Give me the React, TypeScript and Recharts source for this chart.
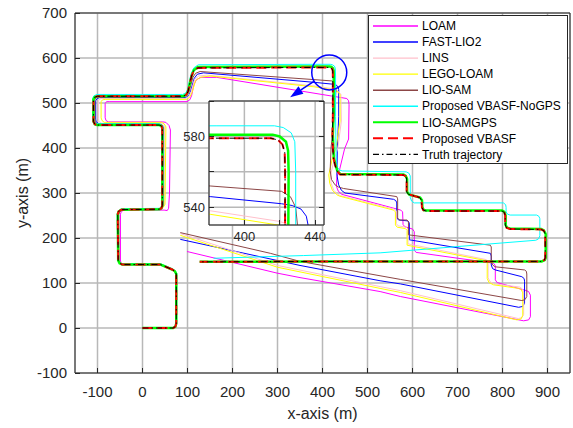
import React from 'react';
import { LineChart, Line, XAxis, YAxis, CartesianGrid, Legend, ReferenceDot, ReferenceLine } from 'recharts';

type Pt = [number, number];

const xTicks = [-100, 0, 100, 200, 300, 400, 500, 600, 700, 800, 900];
const yTicks = [-100, 0, 100, 200, 300, 400, 500, 600, 700];
const insetXTicks = [400, 420, 440];
const insetYTicks = [540, 560, 580, 600];
const insetXLabeled = [400, 440];
const insetYLabeled = [540, 580];

const truthPts: Pt[] = [
  [0, 0], [68, 0], [73, 3], [75, 10], [75, 120], [72, 126], [66, 130], [40, 141], [-45, 141], [-51, 144], [-54, 150],
  [-55, 253], [-53, 259], [-47, 263], [38, 264], [42, 266], [44, 272], [44, 444], [42, 449], [37, 451], [-101, 451],
  [-106, 453], [-109, 459], [-109, 508], [-106, 513], [-100, 515], [90, 515], [97, 518], [101, 525], [109, 560],
  [114, 572], [123, 578], [380, 579], [415, 579], [419, 578], [421.5, 575.5], [422.8, 571], [423, 560], [423, 470],
  [422, 430], [424, 380], [428, 362], [432, 349], [439, 341], [580, 340], [585, 337], [587, 331], [587, 303],
  [591, 297], [616, 290], [620, 284], [621, 268], [624, 262], [630, 260], [799, 260], [804, 257], [806, 250],
  [806, 229], [809, 223], [816, 220], [886, 219], [892, 216], [895, 209], [895, 156], [893, 151], [887, 148],
  [600, 148], [400, 148], [127, 147],
];

const vbasfPts: Pt[] = truthPts;

const lioSamGpsPts: Pt[] = [
  [0, 0], [68, 0], [73, 3], [75, 10], [75, 120], [72, 126], [66, 130], [40, 141], [-45, 141], [-51, 144], [-54, 150],
  [-55, 253], [-53, 259], [-47, 263], [38, 264], [42, 266], [44, 272], [44, 444], [42, 449], [37, 451], [-101, 451],
  [-106, 453], [-109, 459], [-109, 508], [-106, 513], [-100, 515], [90, 515], [97, 518], [101, 525], [109, 560],
  [114, 573], [123, 580], [380, 581], [416, 581], [420, 580], [423.5, 577], [424.7, 572], [425, 560], [424.5, 470],
  [423, 430], [425, 380], [429, 362], [433, 349], [440, 342], [580, 341], [585, 338], [588, 331], [588, 303],
  [592, 297], [617, 290], [621, 284], [622, 268], [625, 262], [631, 261], [799, 261], [804, 258], [807, 250],
  [807, 229], [810, 223], [817, 221], [886, 220], [892, 217], [896, 209], [896, 156], [894, 151], [887, 148],
  [600, 148], [400, 148], [127, 147],
];

const noGpsPts: Pt[] = [
  [0, 1], [68, 1], [74, 4], [76, 11], [76, 121], [73, 127], [66, 132], [40, 143], [-46, 143], [-52, 146], [-55, 152],
  [-56, 253], [-54, 260], [-47, 265], [39, 266], [44, 268], [46, 274], [46, 446], [43, 451], [37, 454], [-102, 454],
  [-108, 457], [-111, 463], [-111, 510], [-108, 516], [-101, 519], [89, 519], [96, 522], [100, 530], [108, 565],
  [114, 578], [124, 585], [384, 586], [417, 586], [422, 585], [426.5, 582], [428.5, 577], [429, 560], [429, 470],
  [430, 400], [431, 370], [433, 357], [438, 351], [444, 349], [586, 347], [592, 344], [595, 338], [595, 290],
  [598, 282], [604, 278], [802, 278], [807, 274], [808, 268], [808, 258], [811, 253], [817, 251], [876, 251],
  [881, 248], [883, 243], [883, 205], [880, 198], [874, 195], [700, 181], [528, 167], [358, 161], [158, 155],
];

const loamPts: Pt[] = [
  [0, 1], [68, 1], [73, 4], [74, 10], [74, 120], [71, 126], [65, 130], [40, 140], [-44, 140], [-48, 144], [-49, 151],
  [-49, 253], [-47, 259], [-41, 262], [48, 262], [55, 261], [58, 266], [60, 300], [62, 440], [59, 450], [52, 457],
  [45, 458], [-76, 458], [-81, 461], [-83, 467], [-83, 499], [-80, 503], [-74, 503], [99, 503], [105, 507],
  [109, 516], [114, 540], [120, 552], [130, 557], [165, 557], [454, 510], [458, 505], [459, 496], [458, 420],
  [449, 398], [438, 352], [432, 336], [431, 315], [435, 304], [443, 297], [574, 262], [578, 258], [579, 230],
  [583, 225], [600, 220], [604, 214], [604, 173], [608, 168], [780, 144], [784, 139], [784, 107], [788, 101],
  [795, 99], [850, 84], [858, 81], [862, 73], [862, 25], [858, 18], [847, 16], [573, 70], [528, 81], [350, 112],
  [299, 122], [99, 170],
];

const fastLio2Pts: Pt[] = [
  [0, 0], [68, 0], [73, 3], [75, 10], [75, 120], [72, 126], [66, 130], [40, 141], [-45, 141], [-51, 145], [-53, 151],
  [-53, 253], [-51, 259], [-45, 263], [40, 264], [45, 268], [47, 274], [47, 445], [44, 451], [38, 454], [-97, 454],
  [-103, 458], [-104, 464], [-104, 505], [-101, 510], [-95, 512], [96, 512], [103, 517], [107, 527], [115, 555],
  [122, 564], [136, 567], [381, 546], [421, 542], [427, 541], [432, 539], [435, 535], [436, 530], [436, 470],
  [433, 400], [432, 340], [436, 318], [442, 306], [450, 300], [558, 286], [563, 283], [565, 278], [565, 245],
  [569, 240], [590, 238], [593, 233], [593, 196], [773, 166], [775, 160], [775, 140], [778, 132], [784, 129],
  [843, 114], [848, 110], [849, 104], [849, 55], [845, 48], [836, 46], [573, 98], [528, 105], [350, 139], [84, 197],
];

const linsPts: Pt[] = [
  [0, 0], [68, 0], [73, 3], [75, 10], [75, 120], [72, 126], [66, 130], [40, 141], [-45, 141], [-51, 145], [-53, 151],
  [-53, 253], [-51, 259], [-45, 263], [40, 264], [45, 268], [48, 275], [49, 446], [46, 452], [40, 455], [-92, 455],
  [-97, 459], [-98, 465], [-98, 505], [-95, 509], [-89, 510], [96, 510], [103, 515], [108, 525], [116, 553],
  [125, 560], [143, 562], [381, 538], [420, 532], [429, 529], [436, 525], [441, 519], [442, 460], [434, 400],
  [425, 370], [418, 340], [419, 322], [425, 306], [434, 297], [440, 294], [560, 264], [564, 260], [564, 232],
  [568, 227], [586, 224], [590, 220], [590, 187], [764, 152], [768, 148], [768, 112], [772, 103], [782, 98],
  [838, 91], [844, 87], [847, 80], [847, 30], [843, 23], [835, 21], [573, 83], [528, 92], [300, 139], [84, 210],
];

const legoLoamPts: Pt[] = [
  [0, 0], [68, 0], [73, 3], [75, 10], [75, 120], [72, 126], [66, 130], [40, 141], [-45, 141], [-51, 145], [-53, 151],
  [-53, 253], [-51, 259], [-45, 263], [40, 264], [46, 268], [50, 275], [52, 447], [48, 454], [42, 457], [-85, 457],
  [-90, 461], [-92, 467], [-92, 503], [-89, 507], [-83, 508], [98, 508], [105, 513], [110, 523], [118, 550],
  [128, 557], [150, 560], [381, 536], [419, 530], [428, 527], [435, 524], [439, 519], [439, 460], [430, 400],
  [421, 373], [414, 340], [416, 322], [422, 306], [432, 296], [438, 293], [558, 262], [562, 258], [562, 229],
  [566, 224], [584, 221], [588, 217], [588, 184], [762, 150], [766, 145], [766, 110], [770, 101], [780, 96],
  [836, 88], [842, 85], [845, 78], [845, 28], [841, 20], [832, 18], [573, 79], [528, 88], [300, 135], [84, 206],
];

const lioSamPts: Pt[] = [
  [0, 0], [68, 0], [73, 3], [75, 10], [75, 120], [72, 126], [66, 130], [40, 141], [-45, 141], [-51, 145], [-53, 151],
  [-53, 253], [-51, 259], [-45, 263], [40, 264], [44, 268], [45, 274], [45, 445], [42, 451], [36, 453], [-100, 453],
  [-105, 457], [-106, 463], [-106, 507], [-103, 512], [-97, 514], [93, 514], [100, 519], [104, 527], [112, 557],
  [118, 566], [128, 570], [381, 552], [421, 549], [426, 546], [429, 540], [430, 530], [426, 470], [419, 400],
  [417, 350], [420, 330], [428, 318], [436, 313], [447, 310], [565, 292], [567, 287], [567, 244], [572, 240],
  [588, 240], [591, 236], [591, 207], [773, 184], [775, 180], [775, 147], [778, 140], [784, 136], [849, 129],
  [853, 126], [854, 120], [854, 70], [850, 63], [843, 61], [573, 108], [350, 148], [284, 166], [84, 212],
];

type Series = { name: string; pts: Pt[]; color: string; width: number; dash?: string };

const series: Series[] = [
  { name: 'LOAM', pts: loamPts, color: '#ff00ff', width: 1 },
  { name: 'FAST-LIO2', pts: fastLio2Pts, color: '#0000ff', width: 1 },
  { name: 'LINS', pts: linsPts, color: '#ffc0cb', width: 1 },
  { name: 'LEGO-LOAM', pts: legoLoamPts, color: '#ffff00', width: 1 },
  { name: 'LIO-SAM', pts: lioSamPts, color: '#8c4646', width: 1 },
  { name: 'Proposed VBASF-NoGPS', pts: noGpsPts, color: '#00ffff', width: 1 },
  { name: 'LIO-SAMGPS', pts: lioSamGpsPts, color: '#00ff00', width: 2.5 },
  { name: 'Proposed VBASF', pts: vbasfPts, color: '#ff0000', width: 2, dash: '10 5' },
  { name: 'Truth trajectory', pts: truthPts, color: '#000000', width: 1, dash: '6 3 1.5 3' },
];

const rows = (pts: Pt[]) => pts.map(([x, y]) => ({ x, y }));

const FONT = '"Liberation Sans", Arial, Helvetica, sans-serif';
const AXIS = '#262626';
const GRID = '#b8b8b8';

const fmt = (v: number) => String(v);

const makeBottomTick = (m: number, fs: number, labeled?: number[]) => (props: any) => {
  const { x, y, payload } = props;
  const show = !labeled || labeled.includes(payload.value);
  return (
    <g>
      <path d={`M${x},${y - m}V${y - m - 5}`} stroke={AXIS} strokeWidth={1} fill="none" shapeRendering="crispEdges" />
      {show && (
        <text x={x} y={y} dy="0.71em" textAnchor="middle" fontSize={fs} fill={AXIS} fontFamily={FONT}>
          {fmt(payload.value)}
        </text>
      )}
    </g>
  );
};

const makeLeftTick = (m: number, fs: number, labeled?: number[]) => (props: any) => {
  const { x, y, payload } = props;
  const show = !labeled || labeled.includes(payload.value);
  return (
    <g>
      <path d={`M${x + m},${y}H${x + m + 5}`} stroke={AXIS} strokeWidth={1} fill="none" shapeRendering="crispEdges" />
      {show && (
        <text x={x} y={y} dy="0.355em" textAnchor="end" fontSize={fs} fill={AXIS} fontFamily={FONT}>
          {fmt(payload.value)}
        </text>
      )}
    </g>
  );
};

const TopTick = (props: any) => {
  const { x, y } = props;
  return <path d={`M${x},${y}V${y + 5}`} stroke={AXIS} strokeWidth={1} fill="none" shapeRendering="crispEdges" />;
};

const RightTick = (props: any) => {
  const { x, y } = props;
  return <path d={`M${x},${y}H${x - 5}`} stroke={AXIS} strokeWidth={1} fill="none" shapeRendering="crispEdges" />;
};

const Arrow = (props: any) => {
  const { x1, y1, x2, y2 } = props;
  if ([x1, y1, x2, y2].some((v) => typeof v !== 'number' || isNaN(v))) return <g />;
  const ang = Math.atan2(y2 - y1, x2 - x1);
  const L = 13;
  const W = 4.5;
  const bx = x2 - L * Math.cos(ang);
  const by = y2 - L * Math.sin(ang);
  const px = -Math.sin(ang) * W;
  const py = Math.cos(ang) * W;
  return (
    <g>
      <line x1={x1} y1={y1} x2={bx} y2={by} stroke="#0000ff" strokeWidth={1.5} />
      <polygon points={`${x2},${y2} ${bx + px},${by + py} ${bx - px},${by - py}`} fill="#0000ff" />
    </g>
  );
};

const renderLegend = () => (
  <svg width={201} height={150} style={{ display: 'block' }}>
    <rect x={0.5} y={0.5} width={199} height={148} fill="#ffffff" stroke={AXIS} strokeWidth={1} />
    {series.map((s, i) => {
      const cy = 11 + i * 16.05;
      return (
        <g key={s.name}>
          <line x1={5} x2={50} y1={cy} y2={cy} stroke={s.color} strokeWidth={s.width < 1.5 ? 1.4 : 2} strokeDasharray={s.dash} />
          <text x={54} y={cy} dy="0.35em" fontSize={12} fill="#000" fontFamily={FONT}>
            {s.name}
          </text>
        </g>
      );
    })}
  </svg>
);

const renderLines = () =>
  series.map((s) => (
    <Line
      key={s.name}
      data={rows(s.pts)}
      dataKey="y"
      name={s.name}
      type="linear"
      stroke={s.color}
      strokeWidth={s.width}
      strokeDasharray={s.dash}
      dot={false}
      activeDot={false}
      isAnimationActive={false}
      legendType="none"
    />
  ));

export default function App() {
  return (
    <div style={{ position: 'absolute', left: 0, top: 0, width: 573, height: 428, background: '#fff' }}>
      <LineChart width={573} height={428} margin={{ top: 12, right: 2, bottom: 5, left: 15 }}>
        <CartesianGrid stroke={GRID} strokeWidth={1.5} horizontal vertical />
        <XAxis
          dataKey="x"
          type="number"
          domain={[-150, 950]}
          ticks={xTicks}
          height={50}
          tickSize={0}
          tickMargin={13}
          tickLine={false}
          axisLine={{ stroke: AXIS }}
          tick={makeBottomTick(13, 15)}
          interval={0}
          label={{ value: 'x-axis (m)', position: 'insideBottom', offset: 4, style: { fontSize: 16, fill: AXIS, fontFamily: FONT } }}
        />
        <XAxis xAxisId="top" orientation="top" type="number" domain={[-150, 950]} ticks={xTicks} height={1} tickSize={0} tickMargin={0} tickLine={false} axisLine={{ stroke: AXIS }} tick={TopTick} interval={0} />
        <YAxis
          type="number"
          domain={[-100, 700]}
          ticks={yTicks}
          width={60}
          tickSize={0}
          tickMargin={8}
          tickLine={false}
          axisLine={{ stroke: AXIS }}
          tick={makeLeftTick(8, 15)}
          interval={0}
          label={{ value: 'y-axis (m)', angle: -90, position: 'insideLeft', offset: 7, style: { fontSize: 16, fill: AXIS, fontFamily: FONT, textAnchor: 'middle' } }}
        />
        <YAxis yAxisId="right" orientation="right" type="number" domain={[-100, 700]} ticks={yTicks} width={1} tickSize={0} tickMargin={0} tickLine={false} axisLine={{ stroke: AXIS }} tick={RightTick} interval={0} />
        {renderLines()}
        <ReferenceDot x={415} y={568} r={17.5} fill="none" stroke="#0000ff" strokeWidth={1.5} isFront />
        <ReferenceLine segment={[{ x: 381, y: 548 }, { x: 328, y: 513 }]} shape={Arrow} isFront />
        <Legend layout="vertical" align="center" verticalAlign="middle" content={renderLegend} wrapperStyle={{ left: 368, top: 15, width: 201, height: 150, right: 'auto', bottom: 'auto' }} />
      </LineChart>
      <div style={{ position: 'absolute', left: 170, top: 95 }}>
        <LineChart width={160} height={150} margin={{ top: 5, right: 5, bottom: 0, left: 9 }}>
          <CartesianGrid stroke={GRID} strokeWidth={1.5} fill="#ffffff" fillOpacity={1} />
          <XAxis dataKey="x" type="number" domain={[380, 445]} allowDataOverflow ticks={insetXTicks} height={20} tickSize={0} tickMargin={7} tickLine={false} axisLine={{ stroke: AXIS }} tick={makeBottomTick(7, 13, insetXLabeled)} interval={0} />
          <XAxis xAxisId="top" orientation="top" type="number" domain={[380, 445]} allowDataOverflow ticks={insetXTicks} height={1} tickSize={0} tickMargin={0} tickLine={false} axisLine={{ stroke: AXIS }} tick={TopTick} interval={0} />
          <YAxis type="number" domain={[530, 600]} allowDataOverflow ticks={insetYTicks} width={30} tickSize={0} tickMargin={4} tickLine={false} axisLine={{ stroke: AXIS }} tick={makeLeftTick(4, 13, insetYLabeled)} interval={0} />
          <YAxis yAxisId="right" orientation="right" type="number" domain={[530, 600]} allowDataOverflow ticks={insetYTicks} width={1} tickSize={0} tickMargin={0} tickLine={false} axisLine={{ stroke: AXIS }} tick={RightTick} interval={0} />
          {renderLines()}
        </LineChart>
      </div>
    </div>
  );
}
